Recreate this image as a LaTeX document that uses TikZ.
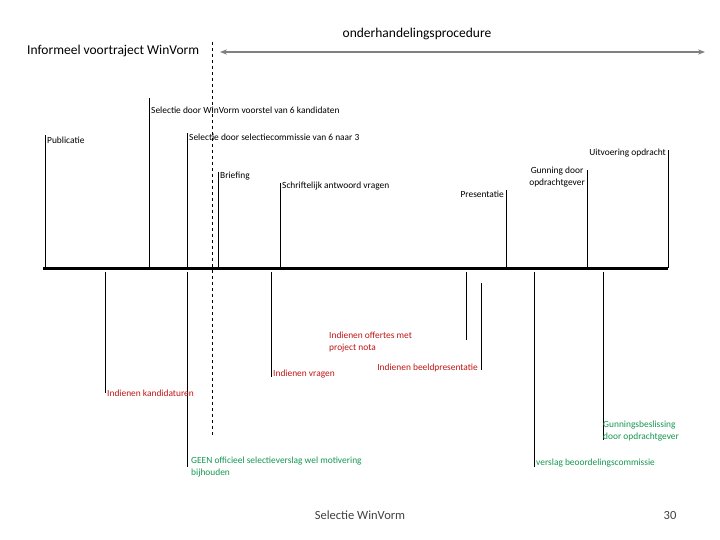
\documentclass[tikz,border=0pt]{standalone}
\usepackage{fontspec}
\setmainfont{Carlito}
\usetikzlibrary{arrows.meta}
\definecolor{myred}{RGB}{192,20,20}
\definecolor{mygreen}{RGB}{20,150,80}
\begin{document}
\begin{tikzpicture}[x=1pt,y=-1pt,
  lbl/.style={inner sep=1pt,font=\fontsize{9.4}{12}\selectfont,align=left},
  rlbl/.style={lbl,text=myred},
  glbl/.style={lbl,text=mygreen},
  tick/.style={line width=0.8pt}]
\useasboundingbox (0,0) rectangle (720,540);
% timeline
\coordinate (tl) at (43,268); \coordinate (tr) at (668,268);
\draw[line width=3pt] (tl) -- (tr);
% header
\node[font=\fontsize{13.5}{15}\selectfont] (h1) at (417,34) {onderhandelingsprocedure};
\node[font=\fontsize{13.5}{15}\selectfont,anchor=west,inner sep=0] (h2) at (27,51) {Informeel voortraject WinVorm};
\coordinate (a1) at (220,52); \coordinate (a2) at (705,52);
\draw[gray,line width=1.5pt,{Stealth[length=7pt]}-{Stealth[length=7pt]}] (a1) -- (a2);
\coordinate (d1) at (212,42); \coordinate (d2) at (212,437);
\draw[dashed,line width=0.8pt] (d1) -- (d2);
% above
\foreach \n/\x/\y in {p/45/135,s1/149/98,s2/187/133,b/218/172,sc/280/183,pr/506/190,g/587/170,u/668/150}{
  \coordinate (\n t) at (\x,\y); \coordinate (\n b) at (\x,268);
  \draw[tick] (\n t) -- (\n b);}
\node[lbl,anchor=west] (lp) at (46,140) {Publicatie};
\node[lbl,anchor=west] (ls1) at (150,110) {Selectie door WinVorm voorstel van 6 kandidaten};
\node[lbl,anchor=west] (ls2) at (188,137) {Selectie door selectiecommissie van 6 naar 3};
\node[lbl,anchor=west] (lb) at (219,176) {Briefing};
\node[lbl,anchor=west] (lsc) at (281,186) {Schriftelijk antwoord vragen};
\node[lbl,anchor=east] (lpr) at (505,194) {Presentatie};
\node[lbl,anchor=north east,align=center] (lg) at (586,166) {Gunning door\\opdrachtgever};
\node[lbl,anchor=east] (lu) at (667,153) {Uitvoering opdracht};
% below
\foreach \n/\x/\yt/\y in {k/105/272/393,ge/187/272/467,v/271/272/377,o/466/272/340,bp/481/283/370,vb/534/272/467,gb/603/272/440}{
  \coordinate (\n t) at (\x,\yt); \coordinate (\n b) at (\x,\y);
  \draw[tick] (\n t) -- (\n b);}
\node[rlbl,anchor=west] (lk) at (106,393) {Indienen kandidaturen};
\node[glbl,anchor=north west] (lge) at (190,456) {GEEN officieel selectieverslag wel motivering\\bijhouden};
\node[rlbl,anchor=north west] (lv) at (272,369) {Indienen vragen};
\node[rlbl,anchor=north west] (lo) at (328,331) {Indienen offertes met\\project nota};
\node[rlbl,anchor=east] (lbp) at (479,368) {Indienen beeldpresentatie};
\node[glbl,anchor=west] (lvb) at (535,463) {verslag beoordelingscommissie};
\node[glbl,anchor=north west] (lgb) at (602,420) {Gunningsbeslissing\\door opdrachtgever};
% footer
\node[font=\fontsize{12.5}{14}\selectfont,text=black!75] (f1) at (360,515) {Selectie WinVorm};
\node[font=\fontsize{12.5}{14}\selectfont,text=black!75] (f2) at (670,515) {30};
\end{tikzpicture}
\end{document}
